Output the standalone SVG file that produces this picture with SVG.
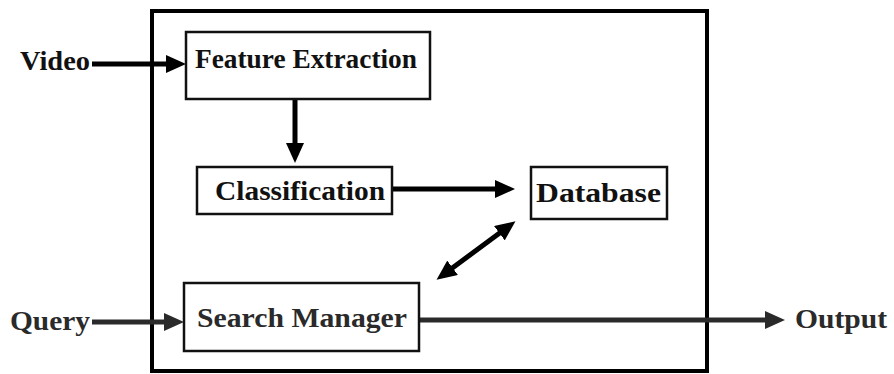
<svg xmlns="http://www.w3.org/2000/svg" width="894" height="374" viewBox="0 0 894 374">
  <defs>
    <style>
      .frame { fill: none; stroke: #000; stroke-width: 4; }
      .box { fill: #fff; stroke: #111; stroke-width: 2.5; }
      .lbl { font-family: "Liberation Serif", "Times New Roman", serif; font-weight: bold; font-size: 28px; fill: #111; }
      .lbl.soft { fill: #2a2a2a; }
      .wire { fill: none; stroke: #000; stroke-width: 5; }
      .wire.soft { stroke: #2a2a2a; }
    </style>
    <marker id="head" viewBox="0 0 20 18" refX="2" refY="9" markerWidth="20" markerHeight="18" markerUnits="userSpaceOnUse" orient="auto-start-reverse">
      <path d="M0,0 L20,9 L0,18 z" fill="#000"/>
    </marker>
    <marker id="headSoft" viewBox="0 0 20 18" refX="2" refY="9" markerWidth="20" markerHeight="18" markerUnits="userSpaceOnUse" orient="auto">
      <path d="M0,0 L20,9 L0,18 z" fill="#2a2a2a"/>
    </marker>
  </defs>

  <rect width="894" height="374" fill="#fff"/>

  <!-- system boundary -->
  <rect id="system" class="frame" x="152" y="11" width="555" height="360"/>

  <!-- connectors -->
  <g id="connectors">
    <line class="wire" x1="92" y1="64" x2="168" y2="64" marker-end="url(#head)"/>
    <line class="wire" x1="295" y1="99" x2="295" y2="145" marker-end="url(#head)"/>
    <line class="wire" x1="392" y1="189" x2="497" y2="189" marker-end="url(#head)"/>
    <line class="wire" x1="451" y1="269" x2="501" y2="232" stroke-width="4.5" marker-start="url(#head)" marker-end="url(#head)"/>
    <line class="wire soft" x1="92" y1="322" x2="166" y2="322" marker-end="url(#headSoft)"/>
    <line class="wire soft" x1="419" y1="320" x2="767" y2="320" marker-end="url(#headSoft)"/>
  </g>

  <!-- external inputs / outputs -->
  <g id="video-in">
    <text class="lbl" x="20" y="70" textLength="70" lengthAdjust="spacingAndGlyphs">Video</text>
  </g>
  <g id="query-in">
    <text class="lbl soft" x="10" y="330" textLength="80" lengthAdjust="spacingAndGlyphs">Query</text>
  </g>
  <g id="output-out">
    <text class="lbl soft" x="795" y="328" textLength="92" lengthAdjust="spacingAndGlyphs">Output</text>
  </g>

  <!-- processing blocks -->
  <g id="feature-extraction">
    <rect class="box" x="186" y="32" width="244" height="67"/>
    <text class="lbl" x="195" y="68" textLength="222" lengthAdjust="spacingAndGlyphs">Feature Extraction</text>
  </g>
  <g id="classification">
    <rect class="box" x="197" y="167" width="195" height="47"/>
    <text class="lbl" x="215" y="200" textLength="170" lengthAdjust="spacingAndGlyphs">Classification</text>
  </g>
  <g id="database">
    <rect class="box" x="531" y="167" width="136" height="52"/>
    <text class="lbl" x="536" y="202" textLength="125" lengthAdjust="spacingAndGlyphs">Database</text>
  </g>
  <g id="search-manager">
    <rect class="box" x="184" y="283" width="235" height="68" stroke="#2a2a2a"/>
    <text class="lbl soft" x="197" y="327" textLength="210" lengthAdjust="spacingAndGlyphs">Search Manager</text>
  </g>
</svg>
